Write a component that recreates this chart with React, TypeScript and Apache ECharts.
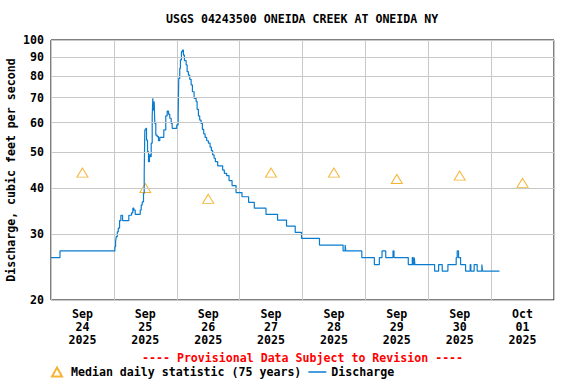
import React, { useEffect, useRef } from 'react';
import * as echarts from 'echarts';

const TITLE = 'USGS 04243500 ONEIDA CREEK AT ONEIDA NY';
const PROVISIONAL = '---- Provisional Data Subject to Revision ----';
const Y_NAME = 'Discharge, cubic feet per second';
const MEDIAN_NAME = 'Median daily statistic (75 years)';
const DISCHARGE_NAME = 'Discharge';

const xTickLabels = [
  'Sep\n24\n2025', 'Sep\n25\n2025', 'Sep\n26\n2025', 'Sep\n27\n2025',
  'Sep\n28\n2025', 'Sep\n29\n2025', 'Sep\n30\n2025', 'Oct\n01\n2025',
];
const yTickValues = [20, 30, 40, 50, 60, 70, 80, 90, 100];

// median daily statistic, one per day (plotted at noon)
const medianHours = [12, 36, 60, 84, 108, 132, 156, 180];
const medianValues = [44, 40, 37.4, 44, 44, 42.3, 43.2, 41.3];

// discharge: hours since Sep 24 00:00, cfs (level begins at that hour)
const dischargeHours = [
  0, 3.43, 24.38, 24.65, 24.91, 25.3, 25.68, 26.17, 26.67, 27.31, 29.71, 29.98, 30.74, 31.24, 31.62, 32.15,
  34.06, 34.44, 34.82, 35.31, 35.58, 35.81, 36.19, 36.46, 36.84, 37.22, 37.6, 37.98, 38.25, 38.63, 38.86,
  39.12, 39.39, 39.62, 40.0, 40.53, 41.03, 41.52, 43.05, 43.81, 44.34, 44.84, 45.33, 45.87, 46.25, 48.0,
  48.53, 48.76, 49.14, 49.41, 49.79, 50.17, 50.55, 50.93, 51.58, 51.96, 52.46, 52.95, 53.49, 53.98, 54.63,
  55.39, 55.77, 56.27, 56.76, 57.29, 57.79, 58.29, 58.82, 59.43, 60.08, 60.72, 61.22, 61.71, 62.25, 62.74,
  63.62, 65.52, 66.17, 67.05, 67.96, 69.11, 70.63, 72.91, 75.43, 77.6, 82.06, 86.48, 89.9, 93.22, 95.62,
  102.48, 111.5, 112.27, 112.53, 118.63, 123.43, 125.33, 126.36, 127.77, 130.55, 130.93, 136.38, 137.9,
  138.2, 138.67, 138.9, 146.44, 147.96, 149.33, 151.5, 154.67, 155.05, 155.56, 156.34, 158.25, 160.0,
  160.27, 161.52, 162.67, 164.46, 164.72, 171.2,
];
const dischargeValues = [
  26.0, 27.1, 27.8, 28.7, 29.6, 30.5, 31.2, 32.7, 33.8, 32.7, 33.8, 33.8, 34.3, 35.3, 34.9, 34.0,
  34.9, 36.0, 36.7, 38.7, 43.8, 57.3, 57.9, 53.8, 50.1, 47.1, 49.1, 48.6, 52.8, 62.2, 69.7,
  64.8, 68.3, 59.7, 55.5, 55.0, 53.6, 54.7, 57.3, 62.5, 64.4, 63.2, 61.6, 59.7, 57.9, 59.1,
  61.6, 78.9, 83.9, 88.4, 93.0, 94.0, 91.1, 88.0, 85.7, 82.2, 80.5, 78.4, 75.7, 72.6, 69.7,
  68.3, 65.1, 62.5, 60.9, 59.7, 57.5, 55.9, 54.7, 53.6, 52.8, 51.5, 50.4, 49.1, 48.1, 47.1,
  45.9, 44.7, 43.8, 43.2, 41.9, 40.6, 38.9, 37.9, 36.6, 35.3, 34.0, 32.8, 31.6, 30.4, 29.3,
  28.1, 27.1, 28.1, 27.1, 26.0, 24.9, 26.0, 27.1, 26.0, 27.1, 26.0, 24.9, 26.0,
  24.9, 26.0, 24.9, 23.9, 24.9, 23.9, 24.9, 26.0, 27.1, 26.0, 24.9, 23.9, 24.9,
  23.9, 24.9, 23.9, 24.9, 23.9, 23.9,
];

const FONT = 'DejaVu Sans Mono';
const FS = 11.6;
const LOG = (v: number) => Math.log10(v);

export default function App() {
  const ref = useRef<HTMLDivElement>(null);
  useEffect(() => {
    const chart = echarts.init(ref.current!, null, { renderer: 'svg' });
    const option: any = {
      animation: false,
      backgroundColor: '#fff',
      title: {
        text: TITLE,
        left: 166,
        top: 13,
        padding: 0,
        textStyle: { fontFamily: FONT, fontSize: FS, fontWeight: 'bold', color: '#000' },
      },
      grid: {
        left: 51, top: 40, right: 22, bottom: 84,
        outerBoundsMode: 'none',
        containLabel: false,
        show: true, borderColor: '#000', borderWidth: 1, backgroundColor: 'transparent',
      },
      legend: {
        left: 51,
        top: 366,
        padding: 0,
        itemWidth: 18,
        itemHeight: 9,
        itemGap: 7,
        symbolKeepAspect: true,
        data: [
          { name: MEDIAN_NAME, icon: 'path://M5,0L10,9L0,9Z' },
          { name: DISCHARGE_NAME, icon: 'path://M0,0L18,0L18,1.5L0,1.5Z' },
        ],
        textStyle: { fontFamily: FONT, fontSize: FS, fontWeight: 'bold', color: '#000' },
      },
      graphic: [
        {
          type: 'text',
          left: 142,
          top: 352,
          style: {
            text: PROVISIONAL,
            fill: '#ff0000',
            fontFamily: FONT,
            fontSize: FS,
            fontWeight: 'bold',
          },
        },
      ],
      xAxis: [
        {
          type: 'value', min: 0, max: 192, interval: 24,
          axisLine: { show: false }, axisTick: { show: false }, axisLabel: { show: false },
          splitLine: { show: true, lineStyle: { color: '#c8c8c8', width: 1 } },
        },
        {
          type: 'value', min: 0, max: 192, interval: 12, position: 'bottom',
          axisLine: { show: false }, axisTick: { show: false },
          splitLine: { show: false },
          axisLabel: {
            show: true,
            margin: 7,
            lineHeight: 13,
            fontFamily: FONT, fontSize: FS, fontWeight: 'bold', color: '#000',
            formatter: (v: number) => (v % 24 === 12 ? xTickLabels[(v - 12) / 24] : ''),
          },
        },
      ],
      yAxis: {
        type: 'value', min: LOG(20), max: 2,
        axisLine: { show: false }, axisTick: { show: false }, axisLabel: { show: false },
        splitLine: { show: false },
        name: Y_NAME, nameLocation: 'middle', nameGap: 34,
        nameTextStyle: { fontFamily: FONT, fontSize: FS, fontWeight: 'bold', color: '#000' },
      },
      series: [
        {
          type: 'line',
          name: 'grid',
          data: [],
          z: 1,
          silent: true,
          clip: false,
          markLine: {
            silent: true,
            symbol: 'none',
            animation: false,
            precision: 6,
            lineStyle: { color: '#c8c8c8', type: 'solid', width: 1 },
            label: {
              show: true, position: 'start', distance: 7, formatter: '{b}',
              fontFamily: FONT, fontSize: FS, fontWeight: 'bold', color: '#000',
            },
            data: yTickValues.map((v) => ({ yAxis: LOG(v) + (v === 20 ? 1e-9 : 0), name: String(v) })),
          },
        },
        {
          type: 'scatter',
          name: MEDIAN_NAME,
          data: medianHours.map((h, i) => [h, LOG(medianValues[i])]),
          symbol: 'triangle',
          symbolSize: [11, 9],
          itemStyle: { color: 'rgba(255,255,255,0)', borderColor: '#f5a000', borderWidth: 1 },
          z: 3,
        },
        {
          type: 'line',
          name: DISCHARGE_NAME,
          step: 'end',
          symbol: 'none',
          showSymbol: false,
          data: dischargeHours.map((h, i) => [h, LOG(dischargeValues[i])]),
          lineStyle: { color: '#0a7ccf', width: 1.2 },
          itemStyle: { color: '#0a7ccf' },
          z: 4,
        },
      ],
    };
    chart.setOption(option);
    return () => chart.dispose();
  }, []);
  return (
    <div
      ref={ref}
      style={{ position: 'absolute', left: 0, top: 0, width: 576, height: 384, background: '#fff' }}
    />
  );
}
